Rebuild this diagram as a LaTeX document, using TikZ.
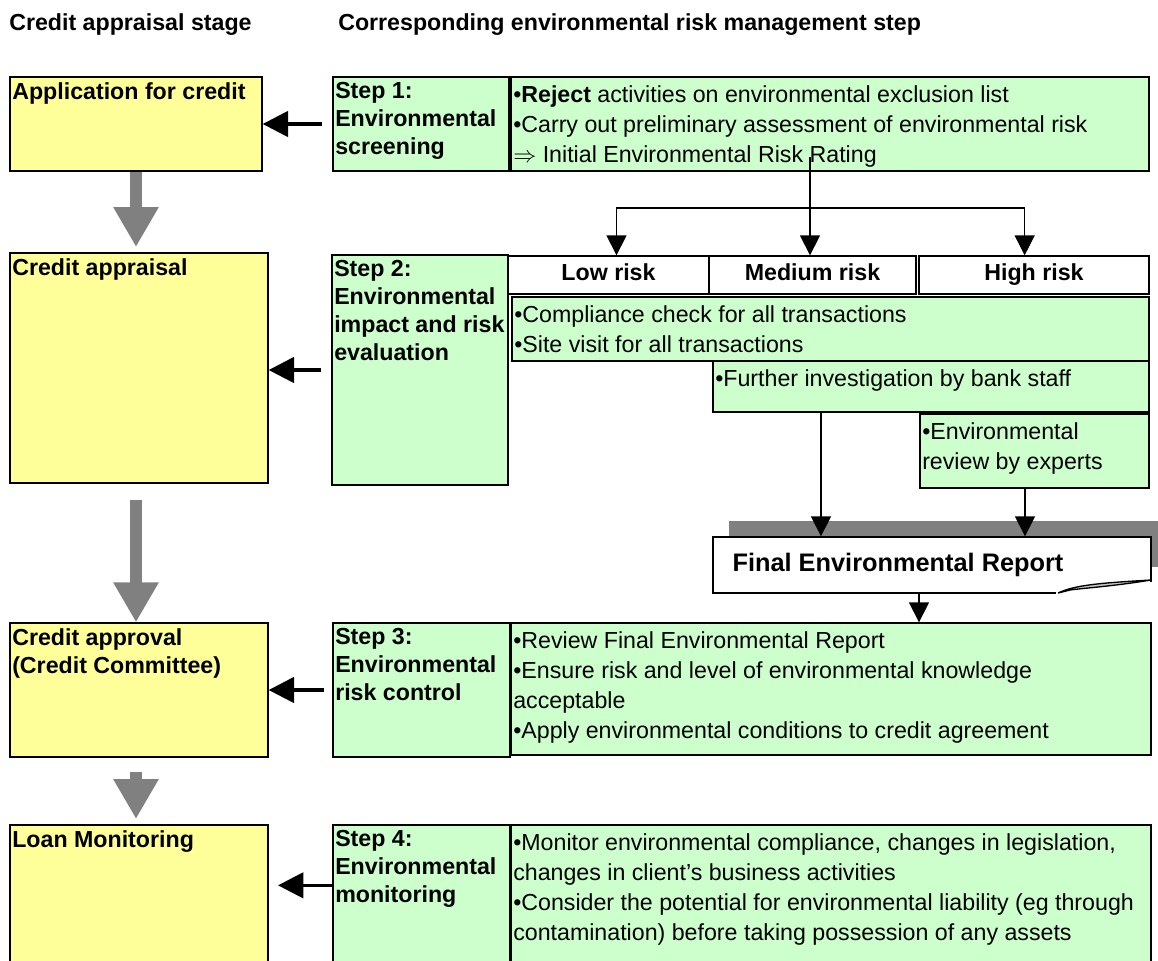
\documentclass[tikz,border=0pt]{standalone}
\usepackage{fontspec}
\setmainfont{Liberation Sans}
\usetikzlibrary{arrows.meta}
\usetikzlibrary{fit}
\definecolor{stageyellow}{HTML}{FFFF99}
\definecolor{stepgreen}{HTML}{CCFFCC}
\definecolor{flowgray}{HTML}{808080}
\definecolor{flapgray}{HTML}{C8C8C8}
\newcommand{\boldtxt}{\fontsize{17.4}{21}\selectfont\bfseries}
\newcommand{\plaintxt}{\fontsize{17.4}{22.6}\selectfont}
\newcommand{\reporttxt}{\fontsize{19}{22}\selectfont\bfseries}
\tikzset{
  stage/.style={draw, fill=stageyellow, line width=1pt, inner sep=0pt},
  stepbox/.style={draw, fill=stepgreen, line width=1pt, inner sep=0pt},
  riskbox/.style={draw, fill=white, line width=1pt, inner sep=0pt},
  risktxt/.style={anchor=base, inner sep=0pt, yshift=11pt, font=\boldtxt},
  intitle/.style={anchor=north west, align=left, inner xsep=2pt, inner ysep=4.5pt, font=\boldtxt},
  inlist/.style={anchor=north west, align=left, inner xsep=2pt, inner ysep=6.5pt, font=\plaintxt},
  feed/.style={line width=2.5pt, -{Triangle[length=19pt,width=19pt]}},
  wire/.style={line width=1pt, -{Triangle[length=15pt,width=15pt]}},
  flow/.style={flowgray, line width=9pt, -{Triangle[length=30pt,width=32pt]}}
}
\begin{document}
\begin{tikzpicture}[x=0.75pt,y=-0.75pt]
\useasboundingbox (0,0) rectangle (1158,961);
\node[anchor=base west, font=\boldtxt, inner sep=0pt] (hstage) at (9,30) {Credit appraisal stage};
\node[anchor=base west, font=\boldtxt, inner sep=0pt] (hstep) at (338,30) {Corresponding environmental risk management step};

\node[stage, fit={(10,77) (262,171)}, label={[intitle]north west:{Application for credit}}] (app) {};
\node[stage, fit={(10,253) (268,483)}, label={[intitle]north west:{Credit appraisal}}] (appr) {};
\node[stage, fit={(10,623) (268,757)}, label={[intitle]north west:{Credit approval\\(Credit Committee)}}] (appro) {};
\node[stage, fit={(10,825) (268,975)}, label={[intitle]north west:{Loan Monitoring}}] (mon) {};

\node[stepbox, fit={(333,77) (509,171)}, label={[intitle]north west:{Step 1:\\Environmental\\screening}}] (screen) {};
\node[stepbox, fit={(511,77) (1149,171)}, label={[inlist]north west:{•\textbf{Reject} activities on environmental exclusion list\\•Carry out preliminary assessment of environmental risk\\$\Rightarrow$ Initial Environmental Risk Rating}}] (screenlist) {};
\node[stepbox, fit={(332,255) (508,485)}, label={[intitle]north west:{Step 2:\\Environmental\\impact and risk\\evaluation}}] (evals) {};
\node[riskbox, fit={(508,256) (709,294)}, label={[risktxt]south:{Low risk}}] (low) {};
\node[riskbox, fit={(709,256) (916,294)}, label={[risktxt]south:{Medium risk}}] (med) {};
\node[riskbox, fit={(919,256) (1149,294)}, label={[risktxt]south:{High risk}}] (high) {};
\node[stepbox, fit={(512,297) (1149,361)}, label={[inlist]north west:{•Compliance check for all transactions\\•Site visit for all transactions}}] (check) {};
\node[stepbox, fit={(713,361) (1149,412)}, label={[inlist]north west:{•Further investigation by bank staff}}] (further) {};
\node[stepbox, fit={(920,414) (1149,488)}, label={[inlist]north west:{•Environmental\\review by experts}}] (review) {};
\node[stepbox, fit={(333,623) (510,757)}, label={[intitle]north west:{Step 3:\\Environmental\\risk control}}] (ctrlstep) {};
\node[stepbox, fit={(511,623) (1151,755)}, label={[inlist]north west:{•Review Final Environmental Report\\•Ensure risk and level of environmental knowledge\\acceptable\\•Apply environmental conditions to credit agreement}}] (ctrl) {};
\node[stepbox, fit={(333,825) (510,975)}, label={[intitle]north west:{Step 4:\\Environmental\\monitoring}}] (monstep) {};
\node[stepbox, fit={(511,825) (1151,975)}, label={[inlist]north west:{•Monitor environmental compliance, changes in legislation,\\changes in client's business activities\\•Consider the potential for environmental liability (eg through\\contamination) before taking possession of any assets}}] (monlist) {};

\fill[flowgray] (729,521) rectangle (1162,567);
\node[draw, fill=white, line width=1pt, inner sep=0pt, fit={(713,537) (1151,593)}, label={[anchor=west, inner sep=0pt, xshift=15pt, font=\reporttxt]west:{Final Environmental Report}}] (report) {};
\fill[white] (1056,582) rectangle (1153,596);
\draw[line width=1pt, fill=flapgray] (1058,593) .. controls (1075,585) and (1100,583) .. (1151,580) .. controls (1115,586) and (1085,588) .. (1070,590) -- cycle;

\draw[flow, shorten >=4pt] (app.south) -- (app.south |- appr.north);
\draw[flow, shorten <=12pt] (app.south |- appr.south) -- (app.south |- appro.north);
\draw[flow, shorten <=11pt, shorten >=4pt] (app.south |- appro.south) -- (app.south |- mon.north);

\draw[feed, shorten <=8pt] (screen.west) -- (app.east);
\draw[feed, shorten <=8pt] (evals.west) -- (evals.west -| appr.east);
\draw[feed, shorten <=6pt] (ctrlstep.west) -- (ctrlstep.west -| appro.east);
\coordinate (mtail) at ([yshift=11pt]monstep.west);
\draw[feed, shorten >=7pt] (mtail) -- (mtail -| mon.east);

\coordinate (rate) at (810,157);
\coordinate (fork) at (810,208);
\draw[wire] (rate) -- (rate |- med.north);
\draw[wire] (fork) -| ([xshift=6pt]low.north);
\draw[wire] (fork) -| ([xshift=-7pt]high.north);
\coordinate (fdrop) at (821,0);
\coordinate (rdrop) at (1025,0);
\coordinate (cdrop) at (919,0);
\draw[wire] (further.south -| fdrop) -- (report.north -| fdrop);
\draw[wire] (review.south -| rdrop) -- (report.north -| rdrop);
\draw[wire] (report.south -| cdrop) -- (ctrl.north -| cdrop);
\end{tikzpicture}
\end{document}
